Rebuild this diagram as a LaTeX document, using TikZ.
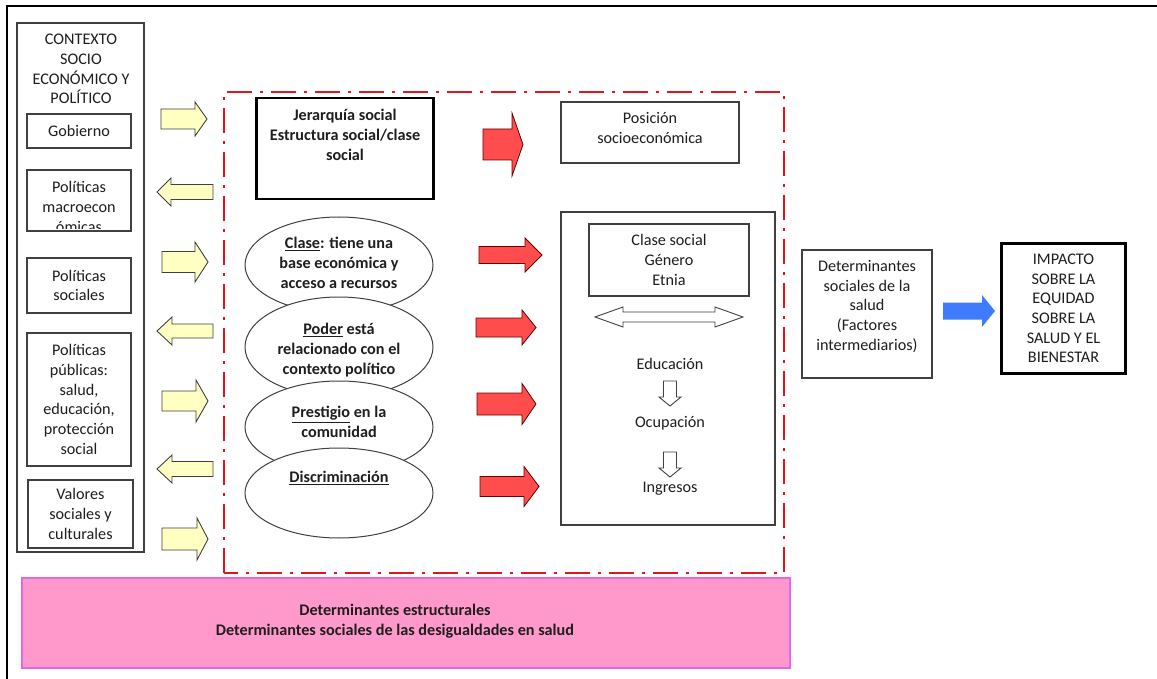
\documentclass[tikz,border=0pt]{standalone}
\usepackage{fontspec}
\setmainfont{Carlito}
\usetikzlibrary{shapes.geometric}

\definecolor{ink}{HTML}{1E1E1E}
\definecolor{frame}{HTML}{404040}
\definecolor{yel}{HTML}{FFFFC2}
\definecolor{redarr}{HTML}{FF4D4D}
\definecolor{bluearr}{HTML}{3F7BFF}
\definecolor{pinkfill}{HTML}{FF99CC}
\definecolor{pinkline}{HTML}{E466E4}
\definecolor{dashred}{HTML}{E0161E}

% horizontal block arrow: style, tail x, head base x, tip x, centre y, shaft half, head half
\newcommand{\hblock}[7]{\draw[#1] (#2,#5-#6) -- (#3,#5-#6) -- (#3,#5-#7) -- (#4,#5)
  -- (#3,#5+#7) -- (#3,#5+#6) -- (#2,#5+#6) -- cycle;}
% vertical block arrow: style, tail y, head base y, tip y, centre x, shaft half, head half
\newcommand{\vblock}[7]{\draw[#1] (#5-#6,#2) -- (#5-#6,#3) -- (#5-#7,#3) -- (#5,#4)
  -- (#5+#7,#3) -- (#5+#6,#3) -- (#5+#6,#2) -- cycle;}

\begin{document}
\begin{tikzpicture}[x=1pt,y=-1pt,
  every node/.style={font=\fontsize{16.2}{19.7}\selectfont, text=ink, inner sep=0pt, align=center},
  box/.style={draw=frame, line width=1.1pt},
  heavybox/.style={draw=black, line width=#1},
  oval/.style={ellipse, draw=frame, line width=1pt, fill=white, minimum width=188},
  bold/.style={font=\fontsize{16.2}{19.7}\selectfont\bfseries},
  yellowarrow/.style={fill=yel, draw=frame, line width=0.9pt, line join=miter},
  redarrow/.style={fill=redarr, draw=black!60!red, line width=0.8pt, line join=miter},
  bluearrow/.style={fill=bluearr, draw=none},
  whitearrow/.style={fill=white, draw=frame, line width=0.9pt, line join=miter},
  dashdot red/.style={draw=dashred, line width=2.8pt, dash pattern=on 25pt off 8pt on 3pt off 8pt}]

\useasboundingbox (0,0) rectangle (1157,679);
\fill[white] (0,0) rectangle (1157,679);

% outer frame (top and left edges)
\draw[line width=2.4pt] (7,679) -- (7,6) -- (1157,6);

% ---------- context column ----------
\node[box, minimum width=127, minimum height=529] (ctx) at (80.5,287.5) {};
\node (ctxtitle) at (81,69) {CONTEXTO\\SOCIO\\ECONÓMICO Y\\POLÍTICO};
\node[box, minimum width=104, minimum height=34] (gob) at (79,131) {Gobierno};
\begin{scope}
  \clip (27,170) rectangle (131,229);
  \node (macrotxt) at (79,207) {Políticas\\macroecon\\ómicas};
\end{scope}
\node[box, minimum width=104, minimum height=61] (macro) at (79,200.5) {};
\node[box, minimum width=104, minimum height=55] (soc) at (79,285.5) {Políticas\\sociales};
\node[box, minimum width=104, minimum height=133] (pub) at (79,399.5)
  {Políticas\\públicas:\\salud,\\educación,\\protección\\social};
\node[box, minimum width=105, minimum height=68] (val) at (80.5,514) {Valores\\sociales y\\culturales};

% yellow exchange arrows
\hblock{yellowarrow}{161}{195}{207}{119}{10}{17}
\hblock{yellowarrow}{213}{171}{157}{192}{7.5}{14}
\hblock{yellowarrow}{162}{195}{208}{262}{10.5}{20}
\hblock{yellowarrow}{213}{172}{157}{331}{7}{14}
\hblock{yellowarrow}{162}{196}{208}{401}{10}{21}
\hblock{yellowarrow}{213}{172}{157}{469}{7.5}{14}
\hblock{yellowarrow}{162}{197}{208}{539}{11}{21}

% ---------- structural determinants ----------
\draw[dashdot red] (224,573) -- (224,92) -- (784,92) -- (784,573) -- cycle;

\node[heavybox=2.6pt, minimum width=177, minimum height=101] (jer) at (345,148.5) {};
\node[bold] (jertxt) at (345,135) {Jerarquía social\\Estructura social/clase\\social};

\node[oval, minimum height=96] (clase) at (339,265) {};
\node[oval, minimum height=100] (poder) at (339,347) {};
\node[oval, minimum height=92] (prest) at (339,427) {};
\node[oval, minimum height=90] (disc) at (339,493) {};
\node[bold] (clasetxt) at (339,263) {\underline{Clase}: tiene una\\base económica y\\acceso a recursos};
\node[bold] (podertxt) at (339,350) {\underline{Poder} está\\relacionado con el\\contexto político};
\node[bold] (presttxt) at (339,422) {\underline{Prestigio} en la\\comunidad};
\node[bold] (disctxt) at (339,478) {\underline{Discriminación}};

% red arrows towards position
\hblock{redarrow}{483}{512}{523}{144.5}{15.5}{31.5}
\hblock{redarrow}{479}{525}{542}{255}{8.5}{17}
\hblock{redarrow}{476}{522}{536}{327.5}{9.5}{17.5}
\hblock{redarrow}{477}{522}{536}{404}{11}{20.5}
\hblock{redarrow}{480}{524}{539}{486.5}{10}{20}

\node[box, minimum width=178, minimum height=61] (pos) at (650,132.5) {};
\node (postxt) at (650,128) {Posición\\socioeconómica};

\node[box, minimum width=214, minimum height=313] (strat) at (668,368.5) {};
\node[box, minimum width=160, minimum height=72] (csge) at (669,260) {Clase social\\Género\\Etnia};

% double arrow between the two groups
\draw[whitearrow] (595,317) -- (623,307) -- (623,312) -- (715,312) -- (715,307)
  -- (743,317) -- (715,327) -- (715,322) -- (623,322) -- (623,327) -- cycle;

\node (edu) at (670,364) {Educación};
\vblock{whitearrow}{381}{397}{406}{670}{6.5}{11}
\node (ocu) at (670,423) {Ocupación};
\vblock{whitearrow}{452}{468}{477}{670}{6.5}{11}
\node (ing) at (670,489) {Ingresos};

\node[fill=pinkfill, draw=pinkline, line width=1.2pt, minimum width=768, minimum height=90] (estr) at (406,623) {};
\node[bold] (estrtxt) at (395,621.5) {Determinantes estructurales\\Determinantes sociales de las desigualdades en salud};

% ---------- intermediary determinants and impact ----------
\node[box, minimum width=130, minimum height=128] (inter) at (867,314) {};
\node (intertxt) at (867,306.5) {Determinantes\\sociales de la\\salud\\(Factores\\intermediarios)};

\hblock{bluearrow}{943}{982}{995}{311}{8.5}{16}

\node[heavybox=3.6pt, minimum width=124, minimum height=130] (imp) at (1063.5,308.5)
  {IMPACTO\\SOBRE LA\\EQUIDAD\\SOBRE LA\\SALUD Y EL\\BIENESTAR};

\end{tikzpicture}
\end{document}
